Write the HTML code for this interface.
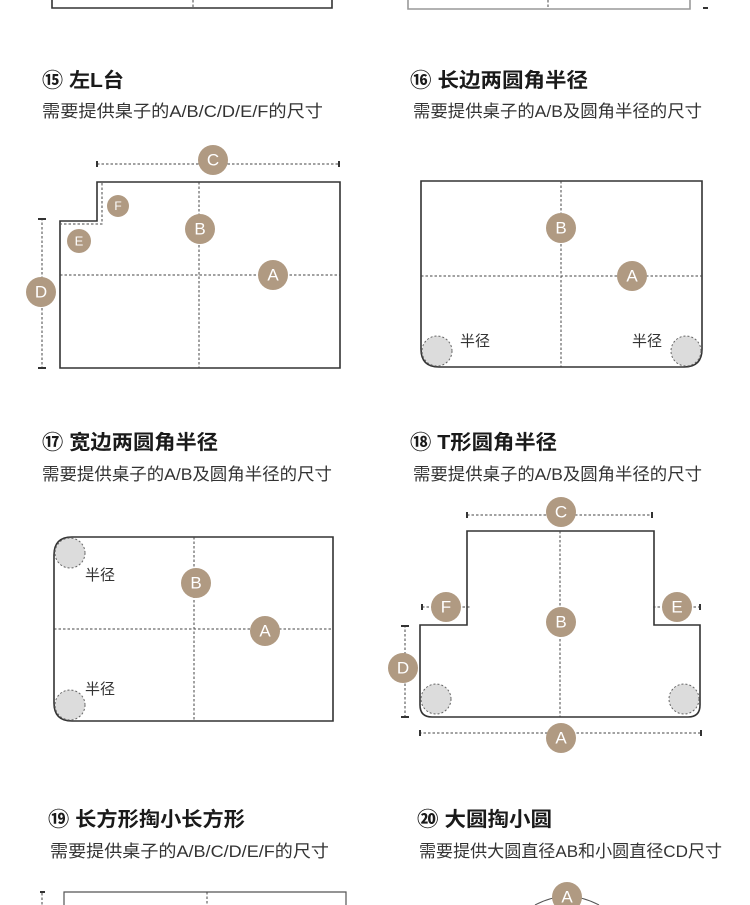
<!DOCTYPE html>
<html><head><meta charset="utf-8"><style>
html,body{margin:0;padding:0;background:#fff;}
svg{display:block;}
.t{font-family:"Liberation Sans","Noto Sans CJK SC",sans-serif;font-weight:bold;font-size:20px;fill:#1a1a1a;}
.s{font-family:"Liberation Sans","Noto Sans CJK SC",sans-serif;font-size:17px;fill:#333;}
.b{font-family:"Liberation Sans",sans-serif;font-size:17px;fill:#fff;text-anchor:middle;dominant-baseline:central;}
.l{font-family:"Liberation Sans","Noto Sans CJK SC",sans-serif;font-size:15px;fill:#333;}
</style></head><body>
<svg width="750" height="905" viewBox="0 0 750 905" xmlns="http://www.w3.org/2000/svg">
<defs>
<style>
.o{fill:none;stroke:#333;stroke-width:1.6;}
.d{fill:none;stroke:#444;stroke-width:1;stroke-dasharray:2.5,2;}
.g{fill:#dcdcdc;stroke:#666;stroke-width:1;stroke-dasharray:2,2;}
.c{fill:#b09a82;}
</style>
</defs>
<!-- top remnants -->
<path class="o" d="M52,0 V8 H332 V0"/>
<line class="d" x1="193" y1="0" x2="193" y2="8"/>
<path class="o" style="stroke:#999" d="M408,0 V9 H690 V0"/>
<line class="d" x1="548" y1="0" x2="548" y2="9"/>
<rect x="703" y="7" width="5" height="2" fill="#333"/>

<!-- 15 -->
<text class="t" x="42" y="87" textLength="82" lengthAdjust="spacingAndGlyphs">⑮ 左L台</text>
<text class="s" x="42" y="117" textLength="281" lengthAdjust="spacingAndGlyphs">需要提供臬子的A/B/C/D/E/F的尺寸</text>
<path class="o" d="M97,182 H340 V368 H60 V221 H97 Z"/>
<path class="d" d="M102,183 V224 H61"/>
<line class="d" x1="60" y1="275" x2="340" y2="275"/>
<line class="d" x1="199" y1="182" x2="199" y2="368"/>
<line class="d" x1="97" y1="164" x2="339" y2="164"/>
<rect x="96" y="161" width="2" height="6" fill="#333"/><rect x="338" y="161" width="2" height="6" fill="#333"/>
<line class="d" x1="42" y1="218" x2="42" y2="368"/>
<rect x="38" y="218" width="8" height="2" fill="#333"/><rect x="38" y="367" width="8" height="2" fill="#333"/>
<circle class="c" cx="213" cy="160" r="15"/><text class="b" x="213" y="160">C</text>
<circle class="c" cx="41" cy="292" r="15"/><text class="b" x="41" y="292">D</text>
<circle class="c" cx="79" cy="241" r="12"/><text class="b" x="79" y="241" style="font-size:13px">E</text>
<circle class="c" cx="118" cy="206" r="11"/><text class="b" x="118" y="206" style="font-size:12px">F</text>
<circle class="c" cx="200" cy="229" r="15"/><text class="b" x="200" y="229">B</text>
<circle class="c" cx="273" cy="275" r="15"/><text class="b" x="273" y="275">A</text>

<!-- 16 -->
<text class="t" x="410" y="87" textLength="178" lengthAdjust="spacingAndGlyphs">⑯ 长边两圆角半径</text>
<text class="s" x="413" y="117" textLength="289" lengthAdjust="spacingAndGlyphs">需要提供桌子的A/B及圆角半径的尺寸</text>
<path class="o" d="M421,181 H702 V349 Q702,367 684,367 H439 Q421,367 421,349 Z"/>
<line class="d" x1="421" y1="276" x2="702" y2="276"/>
<line class="d" x1="561" y1="181" x2="561" y2="367"/>
<circle class="g" cx="437" cy="351" r="15"/><circle class="g" cx="686" cy="351" r="15"/>
<text class="l" x="460" y="346">半径</text><text class="l" x="632" y="346">半径</text>
<circle class="c" cx="561" cy="228" r="15"/><text class="b" x="561" y="228">B</text>
<circle class="c" cx="632" cy="276" r="15"/><text class="b" x="632" y="276">A</text>

<!-- 17 -->
<text class="t" x="42" y="449" textLength="176" lengthAdjust="spacingAndGlyphs">⑰ 宽边两圆角半径</text>
<text class="s" x="42" y="480" textLength="290" lengthAdjust="spacingAndGlyphs">需要提供桌子的A/B及圆角半径的尺寸</text>
<path class="o" d="M72,537 H333 V721 H72 Q54,721 54,703 V555 Q54,537 72,537 Z"/>
<line class="d" x1="54" y1="629" x2="333" y2="629"/>
<line class="d" x1="194" y1="537" x2="194" y2="721"/>
<circle class="g" cx="70" cy="553" r="15"/><circle class="g" cx="70" cy="705" r="15"/>
<text class="l" x="85" y="580">半径</text><text class="l" x="85" y="694">半径</text>
<circle class="c" cx="196" cy="583" r="15"/><text class="b" x="196" y="583">B</text>
<circle class="c" cx="265" cy="631" r="15"/><text class="b" x="265" y="631">A</text>

<!-- 18 -->
<text class="t" x="410" y="449" textLength="147" lengthAdjust="spacingAndGlyphs">⑱ T形圆角半径</text>
<text class="s" x="413" y="480" textLength="289" lengthAdjust="spacingAndGlyphs">需要提供桌子的A/B及圆角半径的尺寸</text>
<path class="o" d="M467,531 H654 V625 H700 V705 Q700,717 688,717 H432 Q420,717 420,705 V625 H467 Z"/>
<line class="d" x1="560" y1="531" x2="560" y2="717"/>
<line class="d" x1="467" y1="515" x2="652" y2="515"/>
<rect x="466" y="512" width="2" height="6" fill="#333"/><rect x="651" y="512" width="2" height="6" fill="#333"/>
<line class="d" x1="422" y1="607" x2="470" y2="607"/><rect x="421" y="604" width="2" height="6" fill="#333"/>
<line class="d" x1="653" y1="607" x2="700" y2="607"/><rect x="699" y="604" width="2" height="6" fill="#333"/>
<line class="d" x1="405" y1="625" x2="405" y2="717"/>
<rect x="401" y="625" width="8" height="2" fill="#333"/><rect x="401" y="716" width="8" height="2" fill="#333"/>
<line class="d" x1="419" y1="733" x2="701" y2="733"/>
<rect x="419" y="730" width="2" height="6" fill="#333"/><rect x="700" y="730" width="2" height="6" fill="#333"/>
<circle class="g" cx="436" cy="699" r="15"/><circle class="g" cx="684" cy="699" r="15"/>
<circle class="c" cx="561" cy="512" r="15"/><text class="b" x="561" y="512">C</text>
<circle class="c" cx="446" cy="607" r="15"/><text class="b" x="446" y="607">F</text>
<circle class="c" cx="677" cy="607" r="15"/><text class="b" x="677" y="607">E</text>
<circle class="c" cx="561" cy="622" r="15"/><text class="b" x="561" y="622">B</text>
<circle class="c" cx="403" cy="668" r="15"/><text class="b" x="403" y="668">D</text>
<circle class="c" cx="561" cy="738" r="15"/><text class="b" x="561" y="738">A</text>

<!-- 19 -->
<text class="t" x="48" y="826" textLength="197" lengthAdjust="spacingAndGlyphs">⑲ 长方形掏小长方形</text>
<text class="s" x="50" y="857" textLength="279" lengthAdjust="spacingAndGlyphs">需要提供桌子的A/B/C/D/E/F的尺寸</text>
<path class="o" style="stroke:#555;stroke-width:1.2" d="M64,905 V892 H346 V905"/>
<line class="d" x1="207" y1="892" x2="207" y2="905"/>
<rect x="40" y="891" width="5" height="2" fill="#333"/>
<line class="d" x1="42" y1="893" x2="42" y2="905"/>

<!-- 20 -->
<text class="t" x="417" y="826" textLength="135" lengthAdjust="spacingAndGlyphs">⑳ 大圆掏小圆</text>
<text class="s" x="419" y="857" textLength="303" lengthAdjust="spacingAndGlyphs">需要提供大圆直径AB和小圆直径CD尺寸</text>
<path d="M535,905 Q550,897 567,896 Q584,897 599,905" fill="none" stroke="#555" stroke-width="1"/>
<circle class="c" cx="567" cy="897" r="15"/><text class="b" x="567" y="897">A</text>
</svg>
</body></html>
